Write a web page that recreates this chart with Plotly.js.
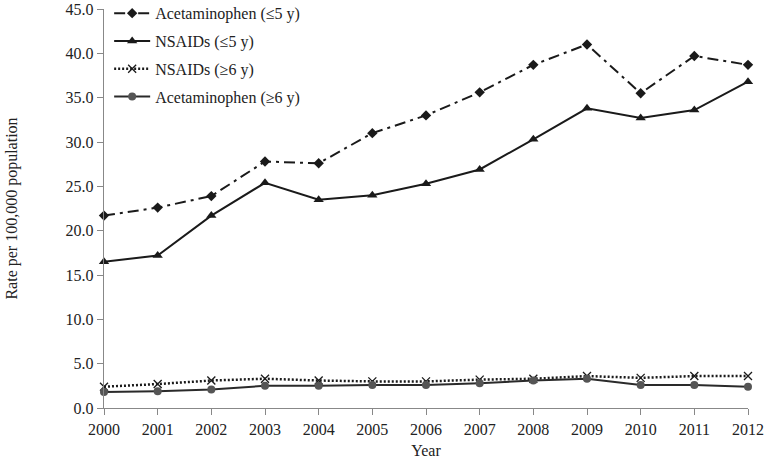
<!DOCTYPE html>
<html>
<head>
<meta charset="utf-8">
<script src="https://cdn.plot.ly/plotly-3.0.1.min.js"></script>
<style>html,body{margin:0;padding:0;background:#fff}#chart{width:765px;height:459px}</style>
</head>
<body>
<div id="chart"></div>
<script>
const years = [2000,2001,2002,2003,2004,2005,2006,2007,2008,2009,2010,2011,2012];
const acetUnder5 = [21.7,22.6,23.9,27.8,27.6,31.0,33.0,35.6,38.7,41.0,35.5,39.7,38.7];
const nsaidsUnder5 = [16.5,17.2,21.7,25.4,23.5,24.0,25.3,26.9,30.3,33.8,32.7,33.6,36.8];
const nsaidsOver6 = [2.4,2.7,3.1,3.3,3.1,3.0,3.0,3.2,3.3,3.6,3.4,3.6,3.6];
const acetOver6 = [1.8,1.9,2.1,2.5,2.5,2.6,2.6,2.8,3.1,3.3,2.6,2.6,2.4];
const seriesNames = ["Acetaminophen (≤5 y)","NSAIDs (≤5 y)","NSAIDs (≥6 y)","Acetaminophen (≥6 y)"];

const traces = [
  {x: years, y: acetUnder5, name: seriesNames[0], mode: 'lines+markers', legendgroup:'a',
   line: {color:'#1a1a1a', width:2, dash:'11px,5px,3px,5px'},
   marker: {symbol:'diamond', size:8, color:'#1a1a1a'}},
  {x: years, y: nsaidsUnder5, name: seriesNames[1], mode: 'lines+markers', legendgroup:'b',
   line: {color:'#1a1a1a', width:2},
   marker: {symbol:'triangle-up', size:9, color:'#1a1a1a'}},
  {x: years, y: nsaidsOver6, name: seriesNames[2], mode: 'lines+markers', legendgroup:'c',
   line: {color:'#1a1a1a', width:2.5, dash:'2px,2px'},
   marker: {symbol:'x-thin-open', size:8, color:'#1a1a1a', line:{width:1.3, color:'#1a1a1a'}}},
  {x: years, y: acetOver6, name: seriesNames[3], mode: 'lines+markers', legendgroup:'d',
   line: {color:'#2a2a2a', width:2},
   marker: {symbol:'circle', size:8, color:'#555555'}}
];

const fontFam = '"Liberation Serif", "Times New Roman", serif';
const layout = {
  width: 765, height: 459,
  margin: {l:104, r:17, t:9, b:51, autoexpand:false},
  paper_bgcolor:'#fff', plot_bgcolor:'#fff',
  font: {family: fontFam, size: 16, color:'#222'},
  showlegend: true,
  legend: {x: 0.008, y: 1.032, xanchor:'left', yanchor:'top', traceorder:'grouped', tracegroupgap: 4,
           itemwidth: 36,
           font:{family: fontFam, size:16, color:'#222'}, bgcolor:'rgba(0,0,0,0)'},
  xaxis: {
    range: [2000, 2012], tickmode:'array', tickvals: years, ticktext: years.map(String),
    showgrid:false, zeroline:false, showline:true, linecolor:'#888', linewidth:1.3,
    ticks:'outside', ticklen:6, tickcolor:'#888', automargin:false, ticklabeloverflow:'allow',
    tickfont:{family: fontFam, size:16, color:'#222'},
    title: {text:'Year', font:{family: fontFam, size:16, color:'#222'}, standoff: 8}
  },
  yaxis: {
    range: [0, 45], dtick: 5, tickformat: '.1f',
    showgrid:false, zeroline:false, showline:true, linecolor:'#888', linewidth:1.3,
    ticks:'outside', ticklen:6, tickcolor:'#888', automargin:false, ticklabeloverflow:'allow',
    tickfont:{family: fontFam, size:16, color:'#222'},
    title: {text:'Rate per 100,000 population', font:{family: fontFam, size:16, color:'#222'}, standoff: 44}
  }
};
traces.forEach(t => t.cliponaxis = false);
Plotly.newPlot('chart', traces, layout, {displayModeBar:false, staticPlot:true});
</script>
</body>
</html>
